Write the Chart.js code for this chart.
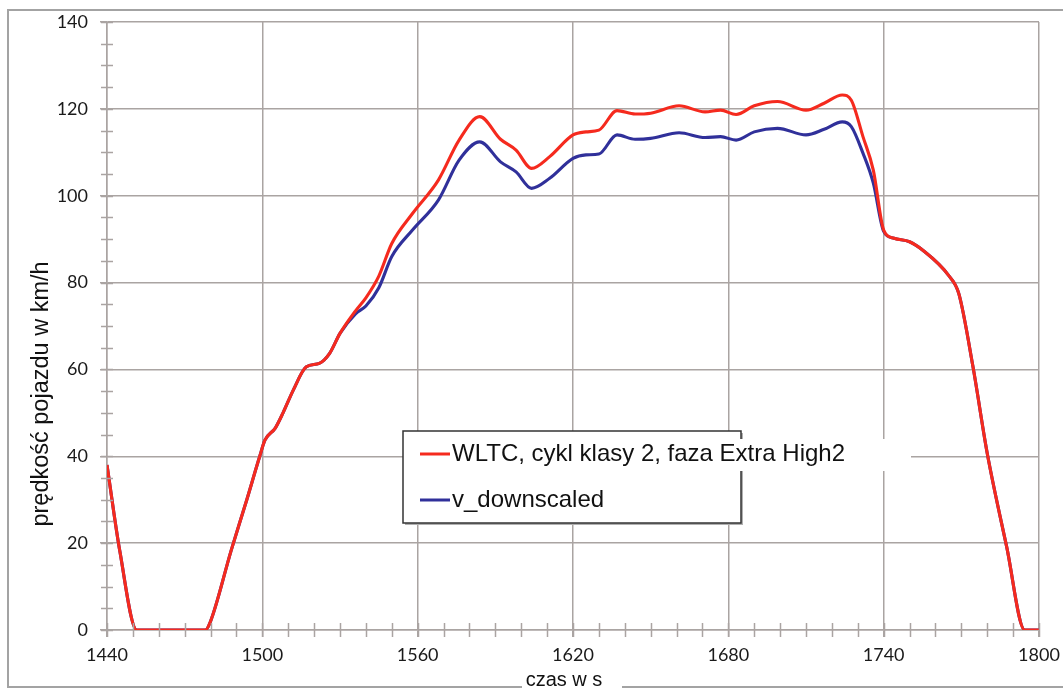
<!DOCTYPE html>
<html>
<head>
<meta charset="utf-8">
<script src="https://cdn.jsdelivr.net/npm/chart.js@4.4.1/dist/chart.umd.min.js"></script>
<style>
  html, body { margin: 0; padding: 0; background: #ffffff; }
  #c { display: block; }
</style>
</head>
<body>
<canvas id="c" width="1063" height="689"></canvas>
<script>
// ---- data ----
const timeSeconds = [1440, 1445, 1451.5, 1465, 1478, 1480, 1488, 1494, 1499, 1501, 1505, 1508, 1512, 1517, 1522, 1526, 1530, 1536, 1540, 1545, 1550, 1558, 1568, 1576, 1584, 1592, 1598, 1604, 1611, 1620, 1625, 1630, 1637, 1644, 1650, 1661, 1671, 1677, 1683, 1690, 1699, 1710, 1717, 1724, 1727.5, 1732, 1736, 1740, 1744, 1750, 1755, 1765, 1769, 1774.5, 1780, 1787.5, 1794.5, 1800];
const wltcSpeed = [38, 18, 0, 0, 0, 2, 18.4, 30, 40, 43.7, 46.5, 50, 55.3, 60.6, 61.4, 63.7, 68.3, 73.5, 76.5, 81.5, 89, 95.9, 103.6, 112.8, 118.2, 113, 110.5, 106.3, 109, 114, 114.7, 115.1, 119.6, 118.8, 119, 120.7, 119.3, 119.7, 118.7, 120.7, 121.7, 119.7, 121.3, 123.2, 122, 113.6, 105.9, 92.1, 90.2, 89.4, 87.5, 81.7, 77.5, 60.6, 40.7, 19.2, 0, 0];
const downscaledSpeed = [38, 18, 0, 0, 0, 2, 18.4, 30, 40, 43.7, 46.5, 50, 55.3, 60.6, 61.4, 63.7, 68.3, 72.8, 74.6, 78.8, 86, 92.1, 99, 108.2, 112.4, 107.8, 105.5, 101.7, 104, 108.6, 109.4, 109.6, 114, 113, 113.2, 114.5, 113.4, 113.6, 112.8, 114.7, 115.5, 114, 115.3, 117, 115.9, 109.8, 102.9, 91.8, 90.2, 89.4, 87.5, 81.7, 77.5, 60.6, 40.7, 19.2, 0, 0];
const seriesLabels = ["WLTC, cykl klasy 2, faza Extra High2", "v_downscaled"];
const xTickValues = [1440, 1500, 1560, 1620, 1680, 1740, 1800];
const yTickValues = [0, 20, 40, 60, 80, 100, 120, 140];
const xAxisTitle = "czas w s";
const yAxisTitle = "prędkość pojazdu w km/h";

const RED = '#f52a1e';
const BLUE = '#30309a';
const GRID = '#aaa4a2';

function toPoints(xs, ys) { return xs.map((x, i) => ({ x: x, y: ys[i] })); }

// minor ticks on both axes
const minorTicks = {
  id: 'minorTicks',
  afterDraw(chart) {
    const ctx = chart.ctx, xs = chart.scales.x, ys = chart.scales.y;
    ctx.save();
    ctx.strokeStyle = GRID;
    ctx.lineWidth = 1.5;
    ctx.beginPath();
    for (let v = ys.min; v <= ys.max; v += 5) {
      const py = Math.round(ys.getPixelForValue(v)) + 0.5;
      ctx.moveTo(xs.left - 6, py); ctx.lineTo(xs.left + 6, py);
    }
    for (let v = xs.min; v <= xs.max; v += 10) {
      const px = Math.round(xs.getPixelForValue(v)) + 0.5;
      ctx.moveTo(px, ys.bottom - 7); ctx.lineTo(px, ys.bottom + 7);
    }
    ctx.stroke();
    ctx.restore();
  }
};

// frame, titles, legend
const decorations = {
  id: 'decorations',
  beforeDraw(chart) {
    const ctx = chart.ctx;
    ctx.save();
    ctx.fillStyle = '#ffffff';
    ctx.fillRect(0, 0, chart.width, chart.height);
    ctx.strokeStyle = '#a3a3a3';
    ctx.lineWidth = 2;
    ctx.strokeRect(8, 10, 1070, 677);
    ctx.restore();
  },
  afterDraw(chart) {
    const ctx = chart.ctx;
    const ds = chart.data.datasets;
    ctx.save();
    // y title
    ctx.fillStyle = '#111111';
    ctx.font = '23.5px "Liberation Sans", Arial, sans-serif';
    ctx.textAlign = 'center';
    ctx.textBaseline = 'middle';
    ctx.translate(42, 394);
    ctx.rotate(-Math.PI / 2);
    ctx.fillText(yAxisTitle, 0, 0);
    ctx.restore();

    ctx.save();
    // x title with white patch over the frame
    ctx.fillStyle = '#ffffff';
    ctx.fillRect(522, 670, 100, 19);
    ctx.fillStyle = '#111111';
    ctx.font = '20px "Liberation Sans", Arial, sans-serif';
    ctx.textAlign = 'center';
    ctx.textBaseline = 'alphabetic';
    ctx.fillText(xAxisTitle, 564, 686);

    // legend box
    const bx = 403, by = 431, bw = 338, bh = 92;
    ctx.fillStyle = '#b0b0b0';
    ctx.fillRect(bx + 2, by + 2, bw, bh);
    ctx.fillStyle = '#ffffff';
    ctx.fillRect(bx, by, bw, bh);
    ctx.strokeStyle = '#333333';
    ctx.lineWidth = 1.5;
    ctx.strokeRect(bx, by, bw, bh);
    // white patch behind overflowing first label
    ctx.fillStyle = '#ffffff';
    ctx.fillRect(736, 439, 175, 32);

    const rows = [454, 500];
    ctx.font = '24px "Liberation Sans", Arial, sans-serif';
    ctx.textAlign = 'left';
    ctx.textBaseline = 'middle';
    rows.forEach((ry, i) => {
      ctx.strokeStyle = ds[i].borderColor;
      ctx.lineWidth = 3;
      ctx.beginPath();
      ctx.moveTo(420, ry); ctx.lineTo(450, ry);
      ctx.stroke();
      ctx.fillStyle = '#111111';
      ctx.fillText(ds[i].label, 452, ry);
    });
    ctx.restore();
  }
};

new Chart(document.getElementById('c'), {
  type: 'line',
  data: {
    datasets: [
      { label: seriesLabels[0], data: toPoints(timeSeconds, wltcSpeed), borderColor: RED, backgroundColor: RED, borderWidth: 3.1, pointRadius: 0, cubicInterpolationMode: 'monotone', fill: false },
      { label: seriesLabels[1], data: toPoints(timeSeconds, downscaledSpeed), borderColor: BLUE, backgroundColor: BLUE, borderWidth: 3.1, pointRadius: 0, cubicInterpolationMode: 'monotone', fill: false }
    ]
  },
  options: {
    responsive: false,
    devicePixelRatio: 1,
    animation: false,
    events: [],
    layout: { padding: { left: 0, right: 24, top: 22, bottom: 0 } },
    plugins: { legend: { display: false }, tooltip: { enabled: false }, title: { display: false } },
    scales: {
      x: {
        type: 'linear',
        min: 1440, max: 1800,
        afterBuildTicks(scale) { scale.ticks = xTickValues.map(v => ({ value: v })); },
        afterFit(scale) { scale.height = 59; scale.paddingLeft = 0; scale.paddingRight = 0; },
        grid: { color: GRID, lineWidth: 1.5, tickLength: 7, drawTicks: true },
        border: { color: GRID, width: 1.5 },
        ticks: { color: '#1a1a1a', font: { family: 'Lato, "Open Sans", sans-serif', size: 18 }, padding: 7, maxRotation: 0, callback: v => String(v) }
      },
      y: {
        type: 'linear',
        min: 0, max: 140,
        afterBuildTicks(scale) { scale.ticks = yTickValues.map(v => ({ value: v })); },
        afterFit(scale) { scale.width = 107; scale.paddingTop = 0; scale.paddingBottom = 0; },
        grid: { color: GRID, lineWidth: 1.5, tickLength: 7, drawTicks: true },
        border: { color: GRID, width: 1.5 },
        ticks: { color: '#1a1a1a', font: { family: 'Lato, "Open Sans", sans-serif', size: 18 }, padding: 12, callback: v => String(v) }
      }
    }
  },
  plugins: [decorations, minorTicks]
});
</script>
</body>
</html>
